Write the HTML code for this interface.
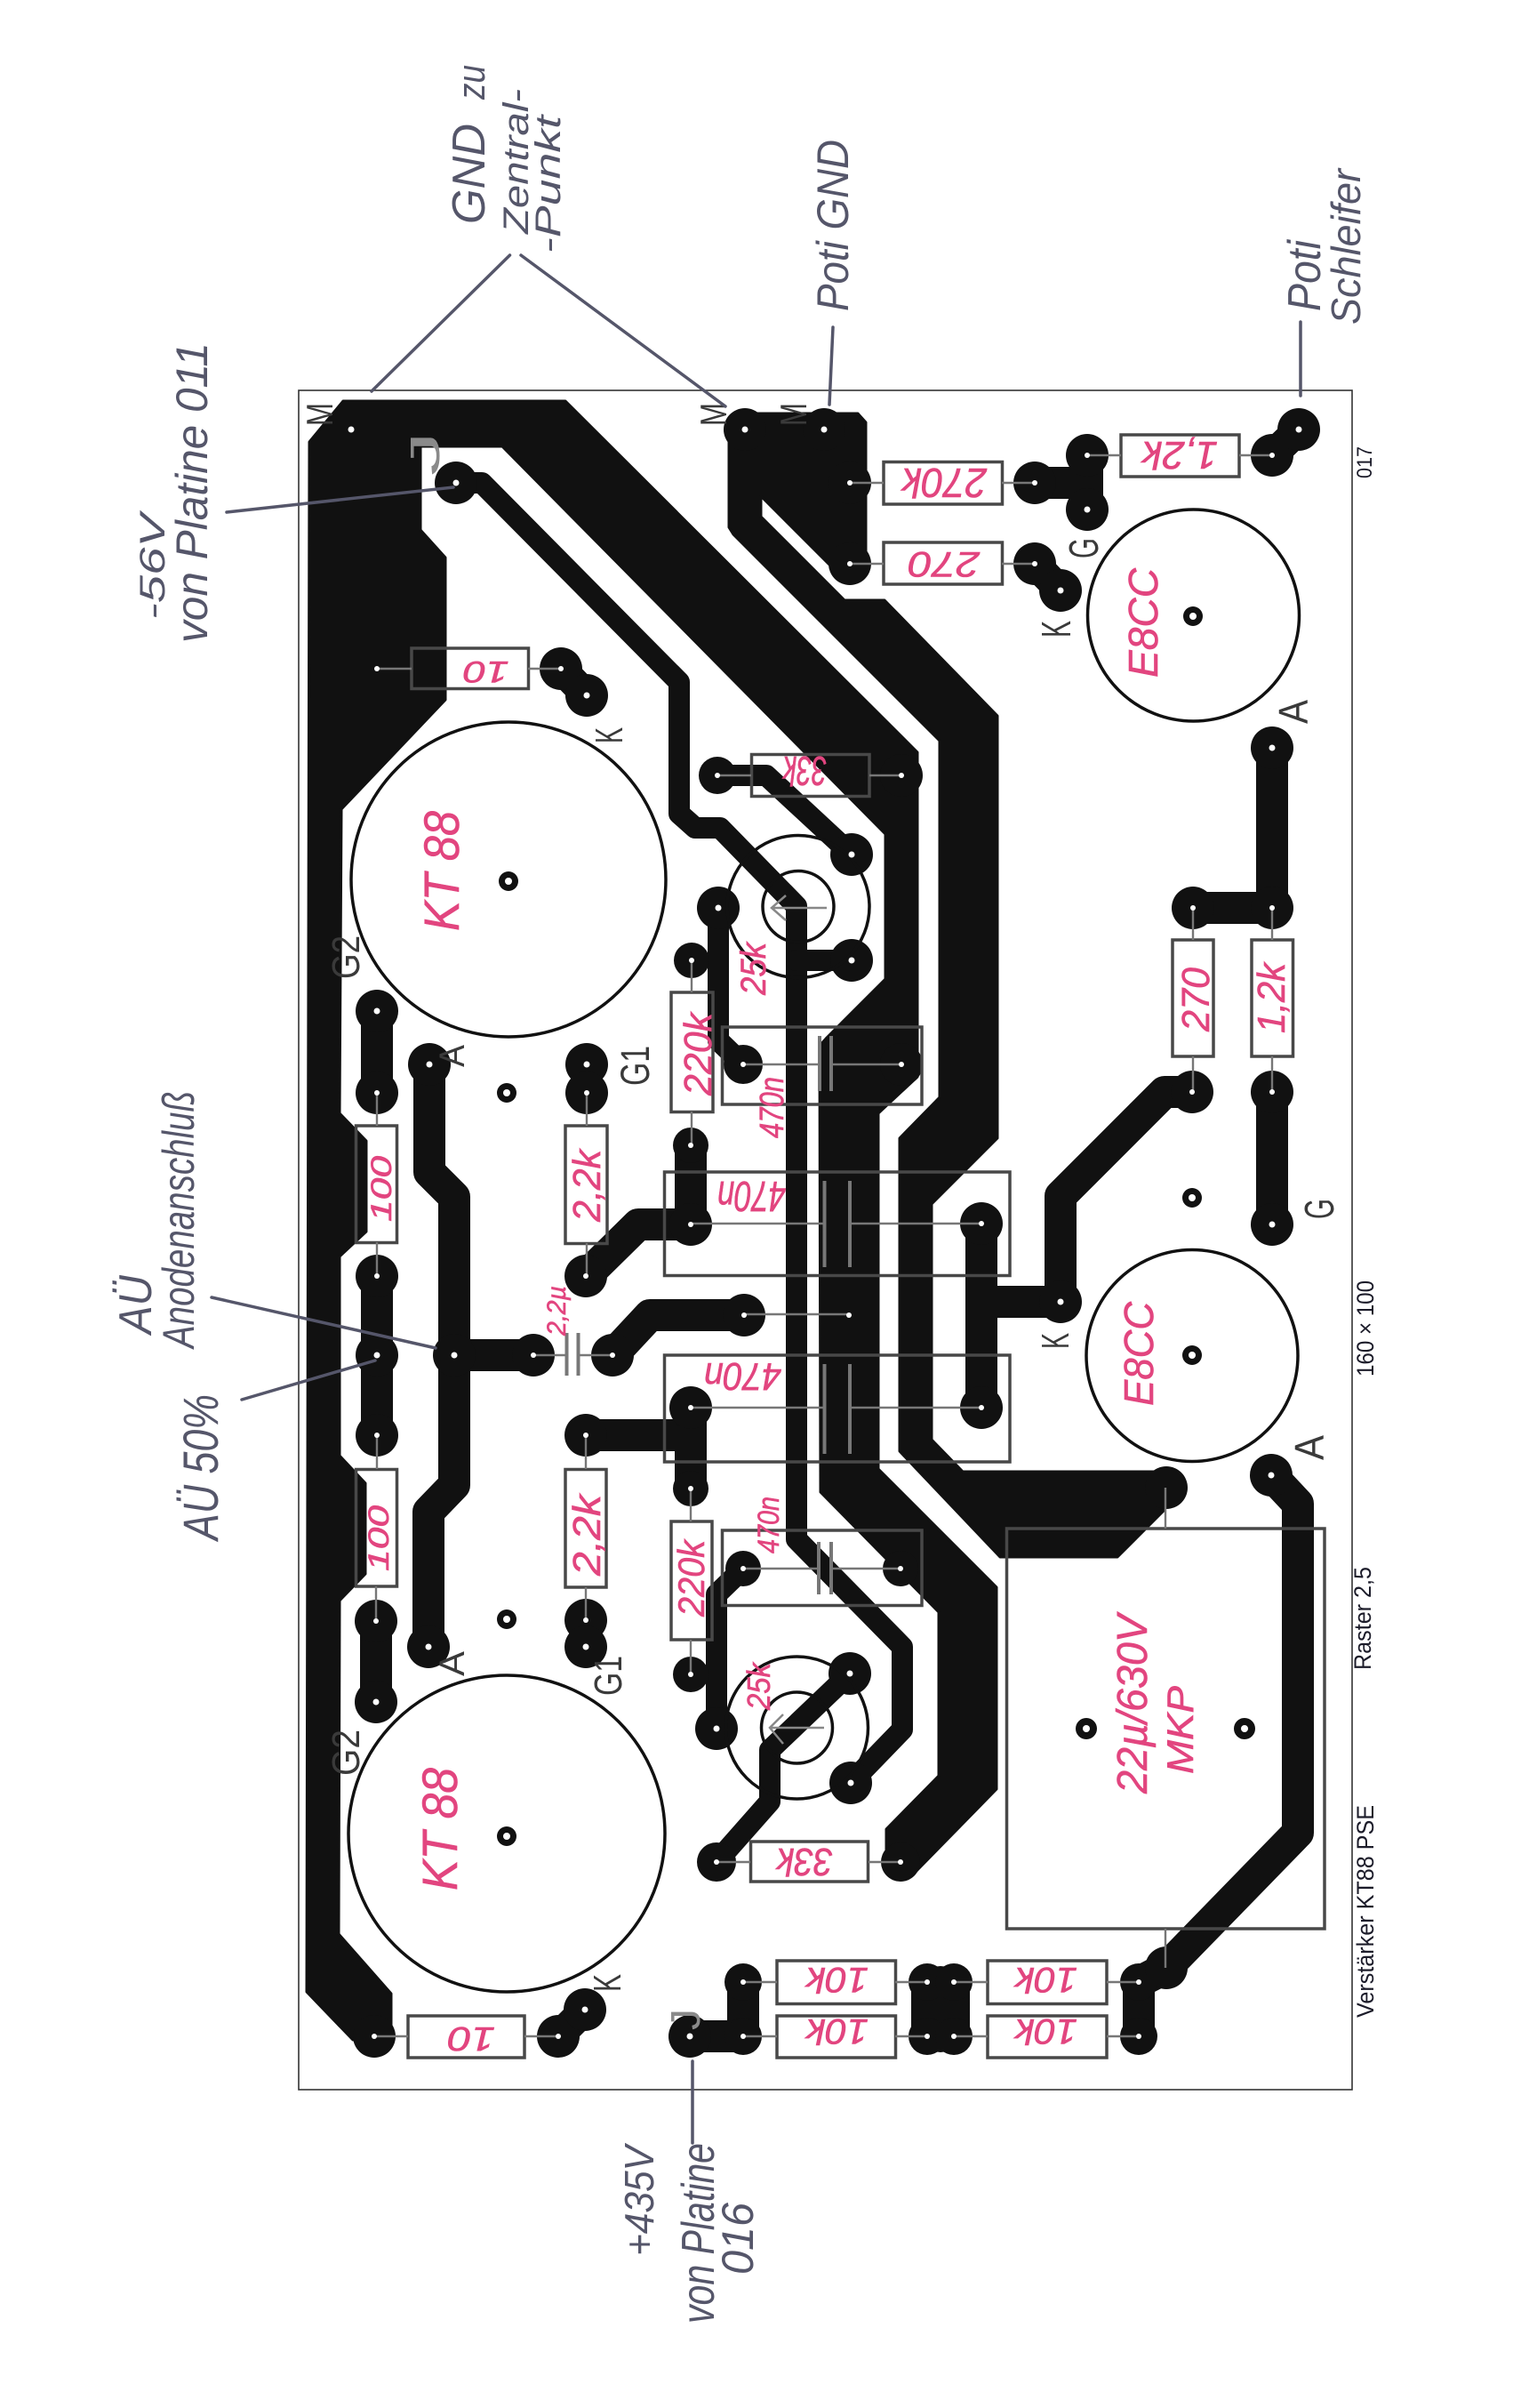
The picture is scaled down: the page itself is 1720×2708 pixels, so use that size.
<!DOCTYPE html>
<html><head><meta charset="utf-8"><title>Verstärker KT88 PSE</title>
<style>
html,body{margin:0;padding:0;background:#fff}
svg{display:block}
.tr{fill:none;stroke:#111;stroke-linecap:round;stroke-linejoin:round}
.cu{fill:#111;stroke:#111;stroke-width:3;stroke-linejoin:round}
.box{fill:none;stroke:#484848;stroke-width:3.5}
.l{stroke:#777;stroke-width:2.4;fill:none}
.ring{fill:none;stroke:#111;stroke-width:3.5}
.hole{fill:#fff}
text{font-family:"Liberation Sans",sans-serif}
.p{fill:#3a3a3a}
.pr{fill:#1c1c2a}
.m{fill:#e2457f;font-style:italic;stroke:#e2457f;stroke-width:.6}
.h{fill:#55566a;font-style:italic}
.pen{stroke:#55566a;stroke-width:3.5;fill:none;stroke-linecap:round}
</style></head><body>
<svg xmlns="http://www.w3.org/2000/svg" width="1720" height="2708" viewBox="0 0 1720 2708">
<rect width="1720" height="2708" fill="#fff"/>
<rect x="336" y="439" width="1185" height="1911" fill="none" stroke="#333" stroke-width="1.6"/>

<!-- copper planes -->
<polygon class="cu" points="348,497 386,451 636,451 1032,846 1032,1211 988,1252 988,1652 1121,1785 1121,2012 1030,2105 997,2094 997,2057 1056,1997 1056,1813 923,1678 922,1176 930,1167 996,1101 996,938 565,502 473,502 473,596 501,627 501,787 384,910 382,1252 412,1283 412,1385 382,1413 382,1637 411,1668 411,1770 382,1800 381,2175 440,2242 440,2290 397,2294 345,2240"/>
<polygon class="cu" points="820,483 838,465 965,465 974,475 974,630 956,655 940,642 856,558 856,581 950,675 995,675 1122,805 1122,1280 1048,1354 1048,1619 1083,1655 1300,1655 1310,1698 1257,1751 1125,1751 1012,1632 1012,1280 1057,1234 1057,833 825,601 820,593"/>

<!-- tracks -->
<g class="tr" stroke-width="24">
<polyline points="513,543 542,543 764,767 764,915 782,931 810,931 896,1019 896,1731 1015,1852 1015,1945 957,2005"/>
<polyline points="807,872 862,872 958,961"/>
<polyline points="896,1080 958,1080"/>
<polyline points="808,1021 808,1170 836,1197"/>
<polyline points="836,1764 806,1793 806,1944"/>
<polyline points="956,1882 866,1968 866,2026 806,2094"/>
</g>
<g class="tr" stroke-width="36">
<polyline points="1164,543 1223,543"/>
<polyline points="1223,512 1223,573"/>
<polyline points="1431,841 1431,1021 1342,1021"/>
<polyline points="1341,1228 1310,1228 1193,1345 1193,1464 1104,1464"/>
<polyline points="1431,1228 1431,1377"/>
<polyline points="1104,1376 1104,1583"/>
<polyline points="424,1137 424,1229"/>
<polyline points="424,1435 424,1614"/>
<polyline points="423,1823 423,1914"/>
<polyline points="483,1197 483,1318 511,1346 511,1670 482,1700 482,1852"/>
<polyline points="511,1524 600,1524"/>
<polyline points="777,1288 777,1377 718,1377 659,1435"/>
<polyline points="689,1524 731,1479 837,1479"/>
<polyline points="659,1614 777,1614"/>
<polyline points="777,1583 777,1674"/>
<polyline points="1430,1659 1460,1691 1460,2061 1312,2213 1281,2229 1281,2290"/>
<polyline points="836,2229 836,2290 776,2290"/>
<polyline points="1043,2229 1043,2290"/>
<polyline points="1073,2229 1073,2290"/>
<polyline points="1058,2229 1058,2290"/>
</g>
<g class="tr" stroke-width="34">
<line x1="1461" y1="483" x2="1431" y2="512"/>
<line x1="1164" y1="634" x2="1193" y2="664"/>
<line x1="631" y1="752" x2="660" y2="782"/>
<line x1="628" y1="2290" x2="658" y2="2260"/>
<line x1="660" y1="1197" x2="660" y2="1229"/>
<line x1="659" y1="1822" x2="659" y2="1852"/>
</g>

<!-- pads -->
<g fill="#111">
<circle cx="421" cy="2290" r="24"/><circle cx="513" cy="543" r="24"/>
<circle cx="838" cy="483" r="24"/><circle cx="927" cy="483" r="24"/>
<circle cx="956" cy="543" r="24"/><circle cx="956" cy="634" r="24"/>
<circle cx="1164" cy="543" r="24"/><circle cx="1164" cy="634" r="24"/><circle cx="1193" cy="664" r="24"/>
<circle cx="1223" cy="512" r="24"/><circle cx="1223" cy="573" r="24"/>
<circle cx="1431" cy="512" r="24"/><circle cx="1461" cy="483" r="24"/>
<circle cx="631" cy="752" r="24"/><circle cx="660" cy="782" r="24"/>
<circle cx="807" cy="872" r="21"/><circle cx="1014" cy="872" r="24"/>
<circle cx="958" cy="961" r="24"/><circle cx="808" cy="1021" r="24"/><circle cx="958" cy="1080" r="24"/><circle cx="778" cy="1080" r="20"/>
<circle cx="1431" cy="841" r="24"/><circle cx="1431" cy="1021" r="24"/><circle cx="1342" cy="1021" r="24"/>
<circle cx="836" cy="1197" r="22"/><circle cx="1014" cy="1197" r="24"/>
<circle cx="424" cy="1137" r="24"/><circle cx="424" cy="1229" r="24"/>
<circle cx="483" cy="1197" r="24"/><circle cx="660" cy="1197" r="24"/><circle cx="660" cy="1229" r="24"/>
<circle cx="777" cy="1288" r="20"/><circle cx="777" cy="1377" r="24"/><circle cx="659" cy="1435" r="24"/>
<circle cx="424" cy="1435" r="24"/><circle cx="424" cy="1524" r="24"/><circle cx="424" cy="1614" r="24"/>
<circle cx="511" cy="1524" r="24"/><circle cx="600" cy="1524" r="24"/><circle cx="689" cy="1524" r="24"/>
<circle cx="837" cy="1479" r="24"/><circle cx="659" cy="1614" r="24"/><circle cx="777" cy="1583" r="24"/><circle cx="777" cy="1674" r="20"/>
<circle cx="1104" cy="1376" r="24"/><circle cx="1104" cy="1583" r="24"/><circle cx="1193" cy="1464" r="24"/>
<circle cx="1341" cy="1228" r="24"/><circle cx="1431" cy="1228" r="24"/><circle cx="1431" cy="1377" r="24"/>
<circle cx="1430" cy="1659" r="24"/><circle cx="1312" cy="1673" r="24"/>
<circle cx="836" cy="1764" r="20"/><circle cx="1013" cy="1764" r="20"/>
<circle cx="423" cy="1823" r="24"/><circle cx="423" cy="1914" r="24"/>
<circle cx="482" cy="1852" r="24"/><circle cx="659" cy="1822" r="24"/><circle cx="659" cy="1852" r="24"/>
<circle cx="777" cy="1883" r="20"/><circle cx="956" cy="1882" r="24"/><circle cx="806" cy="1944" r="24"/>
<circle cx="957" cy="2005" r="24"/><circle cx="806" cy="2094" r="22"/><circle cx="1013" cy="2094" r="22"/>
<circle cx="628" cy="2290" r="24"/><circle cx="658" cy="2260" r="24"/>
<circle cx="776" cy="2290" r="24"/><circle cx="836" cy="2229" r="21"/><circle cx="836" cy="2290" r="21"/>
<circle cx="1043" cy="2229" r="21"/><circle cx="1073" cy="2229" r="21"/><circle cx="1043" cy="2290" r="21"/><circle cx="1073" cy="2290" r="21"/>
<circle cx="1281" cy="2229" r="21"/><circle cx="1281" cy="2290" r="21"/><circle cx="1312" cy="2213" r="24"/>
<!-- mounting holes -->
<circle cx="572" cy="991" r="11"/><circle cx="570" cy="2065" r="11"/><circle cx="570" cy="1229" r="11"/><circle cx="570" cy="1821" r="11"/>
<circle cx="1342" cy="693" r="11"/><circle cx="1341" cy="1524" r="11"/><circle cx="1341" cy="1347" r="11"/><circle cx="1222" cy="1944" r="12"/><circle cx="1400" cy="1944" r="12"/>
</g>

<!-- tubes and pots -->
<circle class="ring" cx="572" cy="989" r="177"/>
<circle class="ring" cx="570" cy="2062" r="178"/>
<circle class="ring" cx="1342.5" cy="692" r="119"/>
<circle class="ring" cx="1341" cy="1524.5" r="119"/>
<circle class="ring" cx="898" cy="1019.5" r="80"/><circle class="ring" cx="898" cy="1019.5" r="40"/>
<circle class="ring" cx="896.5" cy="1943" r="80"/><circle class="ring" cx="896.5" cy="1943" r="40"/>

<!-- component outlines -->
<g class="box">
<rect x="463" y="729" width="131.5" height="45.5"/>
<rect x="845.5" y="848.5" width="132.5" height="47"/>
<rect x="994" y="519.5" width="133.5" height="47.5"/>
<rect x="994" y="610" width="133.5" height="47"/>
<rect x="1261" y="489" width="133" height="47"/>
<rect x="1319" y="1057" width="46" height="131"/>
<rect x="1408" y="1057" width="46.5" height="131"/>
<rect x="755" y="1116" width="47" height="134.5"/>
<rect x="636" y="1266" width="47" height="132.5"/>
<rect x="400.5" y="1266" width="46" height="131.5"/>
<rect x="400.5" y="1652.5" width="46" height="131.5"/>
<rect x="636" y="1652.5" width="46" height="132.5"/>
<rect x="755" y="1711" width="46" height="133"/>
<rect x="812.5" y="1155" width="224.5" height="87"/>
<rect x="812.5" y="1721" width="224.5" height="84.5"/>
<rect x="747.5" y="1318" width="388.5" height="116.5"/>
<rect x="747.5" y="1524" width="388.5" height="120"/>
<rect x="844.5" y="2071" width="132" height="45"/>
<rect x="459" y="2267" width="131" height="47"/>
<rect x="874" y="2205" width="133.5" height="48.5"/>
<rect x="874" y="2267" width="133.5" height="47"/>
<rect x="1111" y="2205" width="134" height="48.5"/>
<rect x="1111" y="2267" width="134" height="47"/>
<rect x="1132.5" y="1719" width="357.5" height="450"/>
</g>
<g class="l">
<path d="M424 752H463M594 752H631M807 872H845M978 872H1014M956 543H994M1127 543H1164M956 634H994M1127 634H1164M1223 512H1261M1394 512H1431"/>
<path d="M1342 1021V1057M1342 1188V1228M1431 1021V1057M1431 1188V1228M778 1080V1116M778 1250V1288M660 1229V1266M660 1398V1435M424 1229V1266M424 1397V1435M424 1614V1652M423 1784V1823M659 1614V1652M659 1785V1822M777 1674V1711M777 1844V1883"/>
<path d="M600 1524H637M650 1524H689M777 1376H927M956 1376H1104M777 1583H927M956 1583H1104M836 1197H922M935 1197H1014M836 1764H921M935 1764H1013M837 1478H956"/>
<path d="M806 2094H844M977 2094H1013M421 2290H459M590 2290H628M836 2229H874M1007 2229H1043M1073 2229H1111M1245 2229H1281M836 2290H874M1007 2290H1043M1073 2290H1111M1245 2290H1281M1311 1673V1719M1311 2169V2213"/>
</g>
<!-- capacitor plates -->
<g stroke="#777" stroke-width="4" fill="none">
<path d="M637.5 1499V1547M650.5 1499V1547"/>
<path d="M927.5 1328V1425M956 1328V1425M927.5 1534V1635M956 1534V1635"/>
<path d="M922 1165V1227M935 1165V1227M921 1734V1793M935 1734V1793"/>
</g>
<!-- wiper arrows -->
<g stroke="#888" stroke-width="2.5" fill="none">
<path d="M884 1007L868 1021L884 1035M868 1021H930"/>
<path d="M881 1928L866 1943L881 1961M866 1943H927"/>
</g>

<!-- drill holes -->
<g class="hole">
<circle cx="395" cy="483" r="3.5"/><circle cx="513" cy="543" r="3.5"/><circle cx="838" cy="483" r="3.5"/><circle cx="927" cy="483" r="3.5"/>
<circle cx="956" cy="543" r="3"/><circle cx="956" cy="634" r="3"/><circle cx="1164" cy="543" r="3"/><circle cx="1164" cy="634" r="3"/><circle cx="1193" cy="664" r="3.5"/>
<circle cx="1223" cy="512" r="3"/><circle cx="1223" cy="573" r="3.5"/><circle cx="1431" cy="512" r="3"/><circle cx="1461" cy="483" r="3.5"/>
<circle cx="424" cy="752" r="3"/><circle cx="631" cy="752" r="3"/><circle cx="660" cy="782" r="3.5"/>
<circle cx="807" cy="872" r="3"/><circle cx="1014" cy="872" r="3"/><circle cx="958" cy="961" r="3.5"/><circle cx="808" cy="1021" r="3.5"/><circle cx="958" cy="1080" r="3.5"/><circle cx="778" cy="1080" r="3"/>
<circle cx="1431" cy="841" r="3.5"/><circle cx="1431" cy="1021" r="3"/><circle cx="1342" cy="1021" r="3"/>
<circle cx="836" cy="1197" r="3"/><circle cx="1014" cy="1197" r="3"/><circle cx="424" cy="1137" r="3.5"/><circle cx="424" cy="1229" r="3"/>
<circle cx="483" cy="1197" r="3.5"/><circle cx="660" cy="1197" r="3.5"/><circle cx="660" cy="1229" r="3"/><circle cx="777" cy="1288" r="3"/><circle cx="777" cy="1377" r="3"/><circle cx="659" cy="1435" r="3"/>
<circle cx="424" cy="1435" r="3"/><circle cx="424" cy="1524" r="3.5"/><circle cx="424" cy="1614" r="3"/><circle cx="511" cy="1524" r="3.5"/><circle cx="600" cy="1524" r="3"/><circle cx="689" cy="1524" r="3"/>
<circle cx="837" cy="1479" r="3"/><circle cx="955" cy="1479" r="3"/><circle cx="659" cy="1614" r="3"/><circle cx="777" cy="1583" r="3"/><circle cx="777" cy="1674" r="3"/>
<circle cx="1104" cy="1376" r="3"/><circle cx="1104" cy="1583" r="3"/><circle cx="1193" cy="1464" r="3.5"/><circle cx="1341" cy="1228" r="3"/><circle cx="1431" cy="1228" r="3"/><circle cx="1431" cy="1377" r="3.5"/>
<circle cx="1430" cy="1659" r="3.5"/><circle cx="836" cy="1764" r="3"/><circle cx="1013" cy="1764" r="3"/>
<circle cx="423" cy="1823" r="3"/><circle cx="423" cy="1914" r="3.5"/><circle cx="482" cy="1852" r="3.5"/><circle cx="659" cy="1822" r="3"/><circle cx="659" cy="1852" r="3.5"/>
<circle cx="777" cy="1883" r="3"/><circle cx="956" cy="1882" r="3.5"/><circle cx="806" cy="1944" r="3.5"/><circle cx="957" cy="2005" r="3.5"/><circle cx="806" cy="2094" r="3"/><circle cx="1013" cy="2094" r="3"/>
<circle cx="421" cy="2290" r="3"/><circle cx="628" cy="2290" r="3"/><circle cx="658" cy="2260" r="3.5"/><circle cx="776" cy="2290" r="3.5"/>
<circle cx="836" cy="2229" r="3"/><circle cx="836" cy="2290" r="3"/><circle cx="1043" cy="2229" r="3"/><circle cx="1073" cy="2229" r="3"/><circle cx="1043" cy="2290" r="3"/><circle cx="1073" cy="2290" r="3"/><circle cx="1281" cy="2229" r="3"/><circle cx="1281" cy="2290" r="3"/>
<circle cx="572" cy="991" r="4"/><circle cx="570" cy="2065" r="4"/><circle cx="570" cy="1229" r="4"/><circle cx="570" cy="1821" r="4"/><circle cx="1342" cy="693" r="4"/><circle cx="1341" cy="1524" r="4"/><circle cx="1341" cy="1347" r="4"/><circle cx="1222" cy="1944" r="4"/><circle cx="1400" cy="1944" r="4"/>
</g>

<!-- printed labels -->
<g class="p">
<text transform="translate(374,479) rotate(-90)" font-size="42" textLength="26" lengthAdjust="spacingAndGlyphs">M</text>
<text transform="translate(817,479) rotate(-90)" font-size="42" textLength="26" lengthAdjust="spacingAndGlyphs">M</text>
<text transform="translate(907,479) rotate(-90)" font-size="42" textLength="26" lengthAdjust="spacingAndGlyphs">M</text>
<text transform="translate(494,535) rotate(-90)" font-size="46" textLength="50" lengthAdjust="spacingAndGlyphs" fill="#8a8a8a">J</text>
<text transform="translate(787,2283) rotate(-90)" font-size="46" textLength="24" lengthAdjust="spacingAndGlyphs" fill="#8a8a8a">J</text>
<text transform="translate(700,836) rotate(-90)" font-size="44" textLength="18" lengthAdjust="spacingAndGlyphs">K</text>
<text transform="translate(1204,717) rotate(-90)" font-size="46" textLength="19" lengthAdjust="spacingAndGlyphs">K</text>
<text transform="translate(1202,1517) rotate(-90)" font-size="44" textLength="18" lengthAdjust="spacingAndGlyphs">K</text>
<text transform="translate(698,2240) rotate(-90)" font-size="44" textLength="20" lengthAdjust="spacingAndGlyphs">K</text>
<text transform="translate(404,1101) rotate(-90)" font-size="44" textLength="49" lengthAdjust="spacingAndGlyphs">G2</text>
<text transform="translate(404,1997) rotate(-90)" font-size="44" textLength="52" lengthAdjust="spacingAndGlyphs">G2</text>
<text transform="translate(730,1221) rotate(-90)" font-size="45" textLength="45" lengthAdjust="spacingAndGlyphs">G1</text>
<text transform="translate(699,1907) rotate(-90)" font-size="44" textLength="45" lengthAdjust="spacingAndGlyphs">G1</text>
<text transform="translate(1235,628) rotate(-90)" font-size="46" textLength="23" lengthAdjust="spacingAndGlyphs">G</text>
<text transform="translate(1500,1371) rotate(-90)" font-size="46" textLength="23" lengthAdjust="spacingAndGlyphs">G</text>
<text transform="translate(522,1200) rotate(-90)" font-size="40" textLength="25" lengthAdjust="spacingAndGlyphs">A</text>
<text transform="translate(1471,814) rotate(-90)" font-size="46" textLength="27" lengthAdjust="spacingAndGlyphs">A</text>
<text transform="translate(1489,1642) rotate(-90)" font-size="46" textLength="28" lengthAdjust="spacingAndGlyphs">A</text>
<text transform="translate(522,1885) rotate(-90)" font-size="40" textLength="28" lengthAdjust="spacingAndGlyphs">A</text>
</g>
<g class="pr">
<text transform="translate(1543,538) rotate(-90)" font-size="24" textLength="36" lengthAdjust="spacingAndGlyphs">017</text>
<text transform="translate(1545,1548) rotate(-90)" font-size="27" textLength="108" lengthAdjust="spacingAndGlyphs">160 × 100</text>
<text transform="translate(1542,1878) rotate(-90)" font-size="27" textLength="116" lengthAdjust="spacingAndGlyphs">Raster 2,5</text>
<text transform="translate(1545,2269) rotate(-90)" font-size="27" textLength="239" lengthAdjust="spacingAndGlyphs">Verstärker KT88 PSE</text>
</g>

<!-- magenta component values -->
<g class="m">
<text transform="translate(572.5,744) rotate(180)" font-size="34" textLength="51" lengthAdjust="spacingAndGlyphs">10</text>
<text transform="translate(930,851) rotate(180)" font-size="46" textLength="49" lengthAdjust="spacingAndGlyphs">33k</text>
<text transform="translate(557,2280) rotate(180)" font-size="38" textLength="53" lengthAdjust="spacingAndGlyphs">10</text>
<text transform="translate(937,2079) rotate(180)" font-size="44" textLength="63" lengthAdjust="spacingAndGlyphs">33k</text>
<text transform="translate(977,2213) rotate(180)" font-size="40" textLength="70" lengthAdjust="spacingAndGlyphs">10k</text>
<text transform="translate(977,2271) rotate(180)" font-size="40" textLength="70" lengthAdjust="spacingAndGlyphs">10k</text>
<text transform="translate(1212,2213) rotate(180)" font-size="40" textLength="70" lengthAdjust="spacingAndGlyphs">10k</text>
<text transform="translate(1212,2271) rotate(180)" font-size="40" textLength="70" lengthAdjust="spacingAndGlyphs">10k</text>
<text transform="translate(1110,527) rotate(180)" font-size="46" textLength="95" lengthAdjust="spacingAndGlyphs">270k</text>
<text transform="translate(1102,621) rotate(180)" font-size="40" textLength="80" lengthAdjust="spacingAndGlyphs">270</text>
<text transform="translate(1370,497) rotate(180)" font-size="44" textLength="85" lengthAdjust="spacingAndGlyphs">1,2k</text>
<text transform="translate(884,1329) rotate(180)" font-size="48" textLength="77" lengthAdjust="spacingAndGlyphs">470n</text>
<text transform="translate(879,1533) rotate(180)" font-size="44" textLength="87" lengthAdjust="spacingAndGlyphs">470n</text>
<text transform="translate(516,1047) rotate(-90)" font-size="56" textLength="135" lengthAdjust="spacingAndGlyphs">KT 88</text>
<text transform="translate(514,2126) rotate(-90)" font-size="56" textLength="138" lengthAdjust="spacingAndGlyphs">KT 88</text>
<text transform="translate(800,1232) rotate(-90)" font-size="44" textLength="93" lengthAdjust="spacingAndGlyphs">220k</text>
<text transform="translate(792,1818) rotate(-90)" font-size="42" textLength="86" lengthAdjust="spacingAndGlyphs">220k</text>
<text transform="translate(861,1119) rotate(-90)" font-size="40" textLength="59" lengthAdjust="spacingAndGlyphs">25k</text>
<text transform="translate(881,1280) rotate(-90)" font-size="38" textLength="69" lengthAdjust="spacingAndGlyphs">470n</text>
<text transform="translate(876,1747) rotate(-90)" font-size="34" textLength="64" lengthAdjust="spacingAndGlyphs">470n</text>
<text transform="translate(866,1923) rotate(-90)" font-size="36" textLength="53" lengthAdjust="spacingAndGlyphs">25k</text>
<text transform="translate(675,1374) rotate(-90)" font-size="44" textLength="81" lengthAdjust="spacingAndGlyphs">2,2k</text>
<text transform="translate(675,1772) rotate(-90)" font-size="44" textLength="91" lengthAdjust="spacingAndGlyphs">2,2k</text>
<text transform="translate(440,1374) rotate(-90)" font-size="32" textLength="74" lengthAdjust="spacingAndGlyphs">100</text>
<text transform="translate(437,1767) rotate(-90)" font-size="32" textLength="74" lengthAdjust="spacingAndGlyphs">100</text>
<text transform="translate(636,1502) rotate(-90)" font-size="30" textLength="56" lengthAdjust="spacingAndGlyphs">2,2µ</text>
<text transform="translate(1290,2017) rotate(-90)" font-size="48" textLength="201" lengthAdjust="spacingAndGlyphs">22µ/630V</text>
<text transform="translate(1342,1995) rotate(-90)" font-size="42" textLength="99" lengthAdjust="spacingAndGlyphs">MKP</text>
<text transform="translate(1302,762) rotate(-90)" font-size="46" textLength="123" lengthAdjust="spacingAndGlyphs">E8CC</text>
<text transform="translate(1297,1581) rotate(-90)" font-size="46" textLength="117" lengthAdjust="spacingAndGlyphs">E8CC</text>
<text transform="translate(1360,1160) rotate(-90)" font-size="44" textLength="72" lengthAdjust="spacingAndGlyphs">270</text>
<text transform="translate(1445,1162) rotate(-90)" font-size="44" textLength="79" lengthAdjust="spacingAndGlyphs">1,2k</text>
</g>

<!-- handwritten annotations -->
<g class="pen">
<path d="M573.5 287L418 440"/>
<path d="M586 287L816 457"/>
<path d="M937 368L933 455"/>
<path d="M1463 362V445"/>
<path d="M255 576L510 548"/>
<path d="M238 1459L490 1516"/>
<path d="M272 1574L422 1530"/>
<path d="M779 2318V2410"/>
</g>
<g class="h">
<text transform="translate(545,252) rotate(-90)" font-size="52" textLength="113" lengthAdjust="spacingAndGlyphs">GND</text>
<text transform="translate(545,112) rotate(-90)" font-size="44" textLength="39" lengthAdjust="spacingAndGlyphs">zu</text>
<text transform="translate(594,263) rotate(-90)" font-size="40" textLength="163" lengthAdjust="spacingAndGlyphs">Zentral-</text>
<text transform="translate(630,285) rotate(-90)" font-size="40" textLength="155" lengthAdjust="spacingAndGlyphs">-Punkt</text>
<text transform="translate(954,350) rotate(-90)" font-size="50" textLength="193" lengthAdjust="spacingAndGlyphs">Poti GND</text>
<text transform="translate(1485,350) rotate(-90)" font-size="52" textLength="80" lengthAdjust="spacingAndGlyphs">Poti</text>
<text transform="translate(1530,365) rotate(-90)" font-size="46" textLength="175" lengthAdjust="spacingAndGlyphs">Schleifer</text>
<text transform="translate(185,697) rotate(-90)" font-size="40" textLength="119" lengthAdjust="spacingAndGlyphs">-56V</text>
<text transform="translate(233,723) rotate(-90)" font-size="50" textLength="338" lengthAdjust="spacingAndGlyphs">von Platine 011</text>
<text transform="translate(170,1500) rotate(-90)" font-size="52" textLength="66" lengthAdjust="spacingAndGlyphs">AÜ</text>
<text transform="translate(218,1516) rotate(-90)" font-size="50" textLength="289" lengthAdjust="spacingAndGlyphs">Anodenanschluß</text>
<text transform="translate(245,1732) rotate(-90)" font-size="56" textLength="164" lengthAdjust="spacingAndGlyphs">AÜ 50%</text>
<text transform="translate(735,2537) rotate(-90)" font-size="46" textLength="124" lengthAdjust="spacingAndGlyphs">+435V</text>
<text transform="translate(803,2613) rotate(-90)" font-size="52" textLength="203" lengthAdjust="spacingAndGlyphs">von Platine</text>
<text transform="translate(847,2558) rotate(-90)" font-size="50" textLength="81" lengthAdjust="spacingAndGlyphs">016</text>
</g>
</svg>
</body></html>
